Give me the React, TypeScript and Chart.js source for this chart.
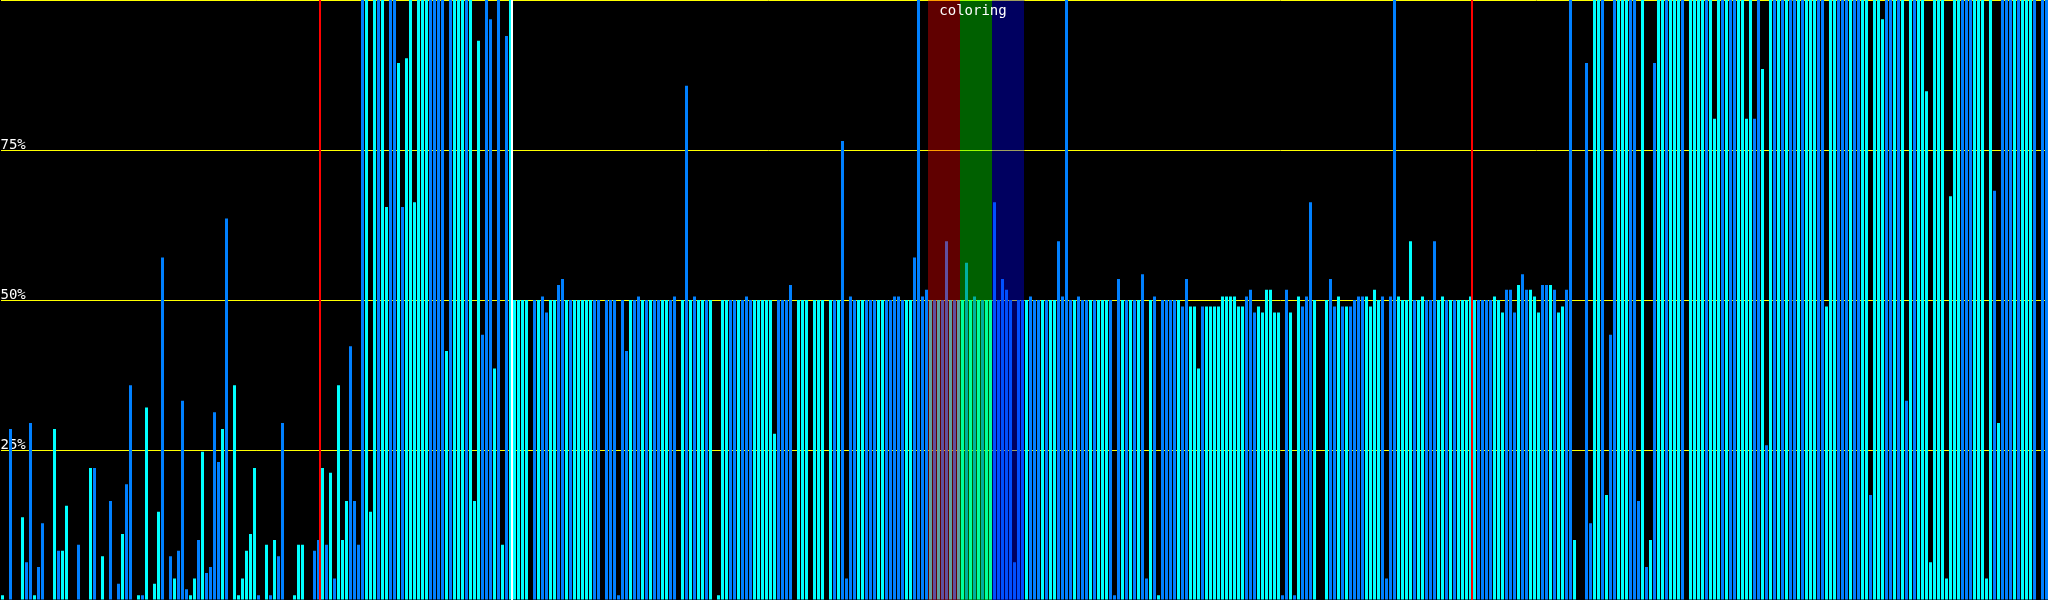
import React, { useEffect, useRef } from 'react';
import { Chart, registerables } from 'chart.js';

Chart.register(...registerables);

// ---- data: bar heights in percent, 64 bars per segment ----
const seg1Values = [0.8,0,28.5,0,0,13.8,6.3,29.5,0.8,5.5, 12.8,0,0,28.5,8.2,8.2,15.7,0,0,9.2, 0,0,22,22,0,7.3,0,16.5,0,2.7, 11,19.3,35.8,0,0.8,0.8,32.1,0,2.7,14.7, 57.1,0,7.3,3.6,8.2,33.2,1.8,0.8,3.6,10, 24.7,4.5,5.5,31.3,23,28.5,63.6,0,35.8,0.8, 3.6,8.2,11,22];
const seg2Values = [0.8,0,9.2,0.8,10,7.3,29.5,0,0,0.8, 9.2,9.2,0,0,8.2,10,22,9.2,21.2,3.6, 35.8,10,16.5,42.3,16.5,9.2,100,100,14.7,100, 100,100,65.5,100,100,89.5,65.5,90.3,100,66.3, 100,100,100,100,100,100,100,41.5,100,100, 100,100,100,100,16.5,93.2,44.2,100,96.8,38.6, 100,9.2,94,100];
const seg3Values = [50,50,50,50,0,50,50,50.6,47.9,50, 50,52.5,53.5,50,50,50,50,50,50,50, 50,50,0,50,50,50,0.8,50,41.5,50, 50,50.6,50,50,50,50,50,50,50,50, 50.6,0,50,85.7,50,50.6,50,50,50,50, 0,0.8,50,50,50,50,50,50,50.6,50, 50,50,50,50];
const seg4Values = [50,27.7,50,50,50,52.5,0,50,50,50, 0,50,50,50,0,50,50,50,76.5,3.6, 50.6,50,50,50,50,50,50,50,50,50, 50,50.6,50.6,50,50,50,57.1,100,50.6,51.7, 50,50,50,50,59.8,50,50,50,50,56.2, 50,50.6,50,50,50,50,66.3,50,53.5,51.7, 50,6.3,50,50];
const seg5Values = [50,50.6,50,50,50,50,50,50,59.8,50.6, 100,50,50,50.6,50,50,50,50,50,50, 50,50,0.8,53.5,50,50,50,50,50,54.3, 3.6,50,50.6,0.8,50,50,50,50,50,48.9, 53.5,48.9,48.9,38.6,48.9,48.9,48.9,48.9,48.9,50.6, 50.6,50.6,50.6,48.9,48.9,50.6,51.7,47.9,48.9,47.9, 51.7,51.7,47.9,47.9];
const seg6Values = [0.8,51.7,47.9,0.8,50.6,48.9,50.6,66.3,50,0, 0,50,53.5,48.9,50.6,48.9,48.9,48.9,50,50.6, 50.6,50.6,48.9,51.7,50,50.6,3.6,50.6,100,50.6, 50,50,59.8,50,50,50.6,50,50,59.8,50, 50.6,50,50,50,50,50,50,50.6,50,50, 50,50,50,50.6,50,47.9,51.7,51.7,47.9,52.5, 54.3,51.7,51.7,50.6];
const seg7Values = [47.9,52.5,52.5,52.5,51.7,47.9,48.9,51.7,100,10, 0,0,89.5,12.8,100,100,100,17.5,44.2,100, 100,100,100,100,100,16.5,100,5.5,10,89.5, 100,100,100,100,100,100,100,0,100,100, 100,100,100,100,80.2,100,100,100,100,100, 100,100,80.2,100,80.2,100,88.5,25.8,100,100, 100,100,100,100];
const seg8Values = [100,100,100,100,100,100,100,100,48.9,100, 100,100,100,100,100,100,100,100,100,17.5, 100,100,96.8,100,100,100,100,100,33.2,100, 100,100,100,84.8,6.3,100,100,100,3.6,67.3, 100,100,100,100,100,100,100,100,3.6,100, 68.2,29.5,100,100,100,100,100,100,100,100, 100,0,100,100];

// ---- data: series kind of each bar (b = primary, c = secondary, - = empty) ----
const seg1Kinds = ['c-b--cbbcb','b--cbcc--b','--cb-c-b-b','cbb-cbc-cc','b-bcbbbccb','cbbbbcb-cc','cccc'];
const seg2Kinds = ['b-cbcbb--c','cc--bbcbcb','cccbbbbccc','bccbbcbccc','cccbbbbcbc','ccbcccbbbc','bcbc'];
const seg3Kinds = ['cccc-bcbbc','cbbcbccccc','bb-bbbbbbc','bbcbcbbccb','b-cbcbccbc','-cccbbcbbb','cccc'];
const seg4Kinds = ['ccbbbb-ccc','-ccc-cbcbb','bbccbbbccb','bbbbccbbbb','cbcbbcbccb','cbcbccbbbb','bbbb'];
const seg5Kinds = ['cbbbcbccbb','bbcbbbcbcc','cbbbcbcbcb','bcbcbbbbcb','bcccbccccc','cccccbbbcc','cccc'];
const seg6Kinds = ['bbcbcbbbc-','-cbbcbcbbb','bccccbbbbc','cccbccbbbc','cbcbcccccb','bbbcccbbbc','bbcc'];
const seg7Kinds = ['cbbcbccbbc','--bbccbcbb','cccbbbcbcb','ccbcccb-cc','ccbcccbcbb','ccccbbcbcb','cbcb'];
const seg8Kinds = ['bcbcccbbcc','cbbbcbbccb','cccbbcbcbc','bccccccccc','ccbbbccccc','bcbbbcbccc','b-bb'];

// ---- axis ticks / annotations ----
const yTickLabels = [25, 50, 75];
const bandStarts = [232, 240, 248];
const bandEnds = [240, 248, 256];
const bandTitle = 'coloring';
const redMarkers = [80, 368];
const whiteMarkers = [128];

const values = [
  ...seg1Values, ...seg2Values, ...seg3Values, ...seg4Values,
  ...seg5Values, ...seg6Values, ...seg7Values, ...seg8Values,
];
const kinds = [
  seg1Kinds, seg2Kinds, seg3Kinds, seg4Kinds, seg5Kinds, seg6Kinds, seg7Kinds, seg8Kinds,
].map((s) => s.join('')).join('').split('');
const categories = values.map((_, i) => String(i));

const BLUE = '#0080ff';
const CYAN = '#00ffff';
const BAND_COLORS = ['rgba(255,0,0,0.375)', 'rgba(0,255,0,0.375)', 'rgba(0,0,255,0.375)'];
const FONT = '"DejaVu Sans Mono", "Liberation Mono", monospace';

const overlayPlugin = {
  id: 'overlayBands',
  afterDatasetsDraw(chart: any) {
    const { ctx, chartArea, scales } = chart;
    const x = scales.x;
    const w = x.width / categories.length;
    const edge = (i: number) => Math.floor(x.getPixelForValue(i) - w / 2);
    ctx.save();
    bandStarts.forEach((s, k) => {
      const l = edge(s);
      const r = edge(bandEnds[k]);
      ctx.fillStyle = BAND_COLORS[k];
      ctx.fillRect(l, chartArea.top, r - l, chartArea.bottom - chartArea.top);
    });
    ctx.restore();
  },
  afterDraw(chart: any) {
    const { ctx, chartArea, scales } = chart;
    const x = scales.x;
    const w = x.width / categories.length;
    const edge = (i: number) => Math.floor(x.getPixelForValue(i) - w / 2);
    ctx.save();
    const h = chartArea.bottom - chartArea.top;
    ctx.fillStyle = '#ff0000';
    redMarkers.forEach((m) => ctx.fillRect(edge(m) - 1, chartArea.top, 2, h));
    ctx.fillStyle = '#ffffff';
    whiteMarkers.forEach((m) => ctx.fillRect(edge(m) - 1, chartArea.top, 2, h));
    const cx = (edge(bandStarts[0]) + edge(bandEnds[bandEnds.length - 1])) / 2;
    ctx.font = `14px ${FONT}`;
    ctx.textAlign = 'center';
    ctx.textBaseline = 'alphabetic';
    ctx.fillStyle = '#ffffff';
    ctx.fillText(bandTitle, cx - 3, chartArea.top + 15);
    ctx.restore();
  },
};

export default function App() {
  const ref = useRef<HTMLCanvasElement>(null);
  useEffect(() => {
    document.body.style.margin = '0';
    document.body.style.overflow = 'hidden';
    document.body.style.background = '#000';
    const canvas = ref.current!;
    const chart = new Chart(canvas, {
      type: 'bar',
      data: {
        labels: categories,
        datasets: [
          {
            data: values,
            backgroundColor: kinds.map((k) => (k === 'c' ? CYAN : BLUE)),
            borderWidth: 0,
            barPercentage: 0.75,
            categoryPercentage: 1,
            inflateAmount: 0,
          } as any,
        ],
      },
      options: {
        responsive: false,
        animation: false,
        devicePixelRatio: 1,
        layout: { padding: { left: 0.5, right: 0.5, top: 0, bottom: 0 } },
        plugins: {
          legend: { display: false },
          tooltip: { enabled: false },
          title: { display: false },
        },
        scales: {
          x: { display: false, offset: true },
          y: {
            min: 0,
            max: 100,
            z: 1,
            afterFit: (s: any) => {
              s.paddingTop = 0;
              s.paddingBottom = 0;
            },
            border: { display: false },
            grid: { color: '#ffff00', lineWidth: 1, drawTicks: false },
            ticks: {
              stepSize: 25,
              mirror: true,
              padding: 0,
              labelOffset: -5,
              color: '#ffffff',
              font: { family: FONT, size: 14 },
              callback: (v: any) => (yTickLabels.includes(Number(v)) ? `${v}%` : ''),
            },
          } as any,
        },
      },
      plugins: [overlayPlugin],
    });
    return () => chart.destroy();
  }, []);
  return (
    <canvas
      ref={ref}
      width={2049}
      height={600}
      style={{ position: 'fixed', left: 0, top: 0, display: 'block', background: '#000' }}
    />
  );
}
